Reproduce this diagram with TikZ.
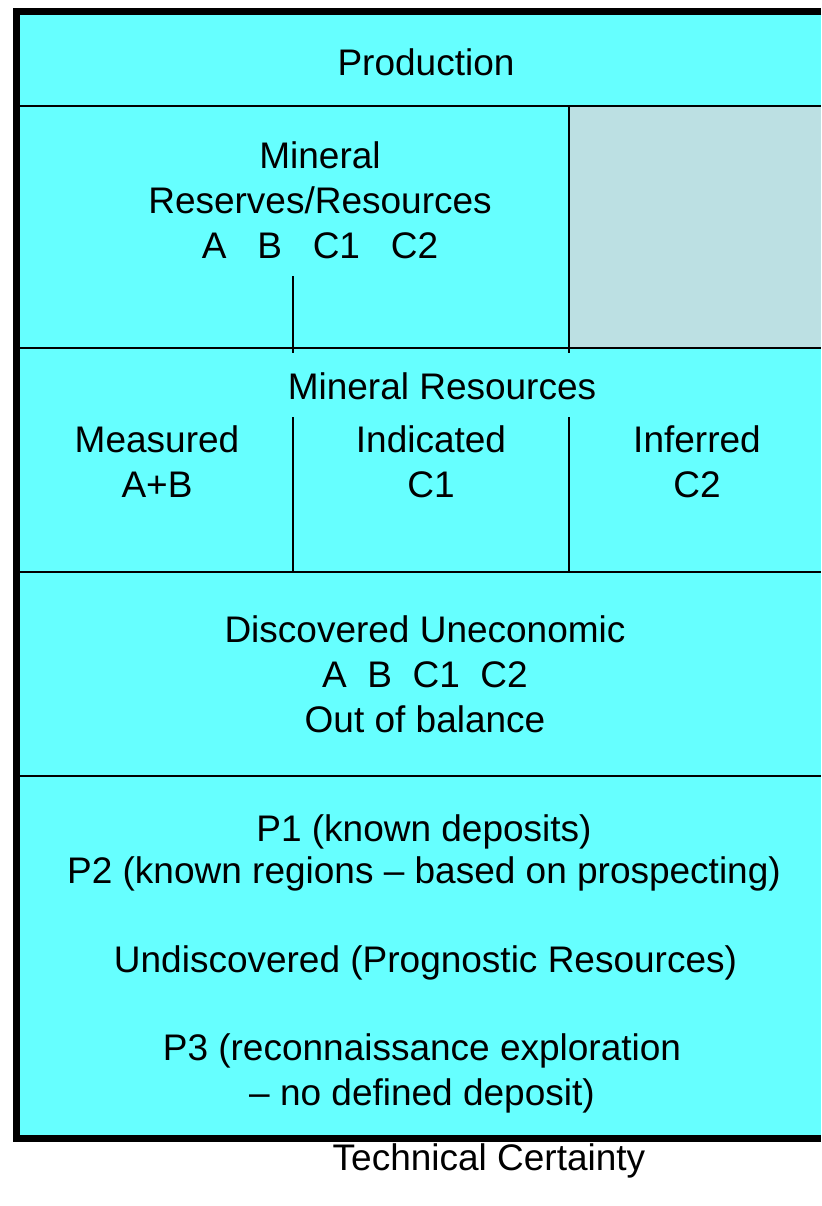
\documentclass[tikz,border=0pt]{standalone}
\usepackage{fontspec}
\setmainfont{Liberation Sans}
\usetikzlibrary{positioning}
\definecolor{cellcyan}{RGB}{102,255,255}
\definecolor{cellgray}{RGB}{188,224,227}
\tikzset{
    every picture/.style={
        x=0.5pt,y=-0.5pt,
        every node/.style={inner sep=0pt,font=\fontsize{18.5}{22.5}\selectfont},
        cell/.style={align=center,anchor=base},
        rule/.style={line width=1.25pt},
        frame/.style={line width=3.35pt}
    }
}
\begin{document}
\begin{tikzpicture}
    \useasboundingbox (0,0) rectangle (821,1206);
    \fill[cellcyan] (16.7,11.3) rectangle (821,1138.3);
    \fill[cellgray] (569,106) rectangle (821,348);
    % corners of the frame
    \coordinate (tr) at (821,11.3);
    \coordinate (tl) at (16.7,11.3);
    \coordinate (bl) at (16.7,1138.3);
    \coordinate (br) at (821,1138.3);
    \draw[frame] (tr) -- (tl) -- (bl) -- (br);
    % row and column rules
    \foreach \y in {106,348,572,776}
        \draw[rule] (20,\y) -- (821,\y);
    \draw[rule] (293,276) -- (293,353) (293,417) -- (293,572);
    \draw[rule] (569,106) -- (569,353) (569,417) -- (569,572);
    % texts, placed at the baseline of their last line
    \node[cell] (prod)         at (426,75)   {Production};
    \node[cell] (reserves)     at (320,258)  {Mineral\\Reserves/Resources\\A~~~B~~~C1~~~C2};
    \node[cell] (resources)    at (442,399)  {Mineral Resources};
    \node[cell] (measured)     at (157,497)  {Measured\\A+B};
    \node[cell] (indicated)    at (431,497)  {Indicated\\C1};
    \node[cell] (inferred)     at (697,497)  {Inferred\\C2};
    \node[cell] (uneconomic)   at (425,732)  {Discovered Uneconomic\\A~~B~~C1~~C2\\Out of balance};
    \node[cell,font=\fontsize{18.5}{21}\selectfont] (known) at (424,883) {P1 (known deposits)\\P2 (known regions -- based on prospecting)};
    \node[cell] (undiscovered) at (425.5,972) {Undiscovered (Prognostic Resources)};
    \node[cell] (recon)        at (422,1105) {P3 (reconnaissance exploration\\-- no defined deposit)};
    \node[cell] (certainty)    at (489,1170) {Technical Certainty};
\end{tikzpicture}
\end{document}
